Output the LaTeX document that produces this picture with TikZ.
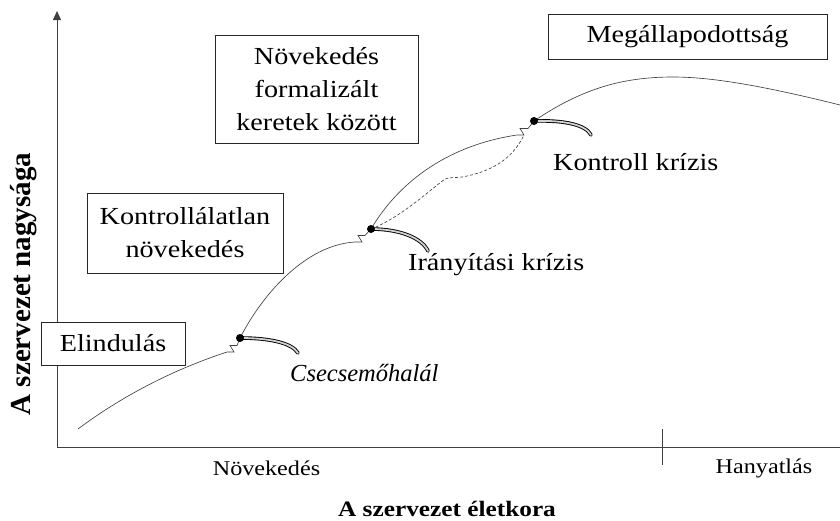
\documentclass[tikz,border=0pt]{standalone}
\usepackage{fontspec}
\setmainfont{Liberation Serif}[FakeStretch=1.15]
\newfontfamily\axisfont{Liberation Serif}
\usetikzlibrary{arrows.meta}
\newcommand\phasefont{\fontsize{24.5}{33}\selectfont}
\newcommand\stagefont{\fontsize{21}{24}\selectfont}

\begin{document}
\begin{tikzpicture}[x=1pt,y=-1pt,
  axisline/.style={draw=black!75, line width=0.8pt},
  growth/.style={draw=black!75, line width=0.65pt},
  phase/.style={draw=black!85, line width=0.8pt, fill=white, inner sep=0pt,
                align=center, font=\phasefont},
  swoosh/.style={draw=black, line width=0.9pt, double=black!18,
                 double distance=1.8pt, line cap=round},
  crisisdot/.style={fill=black, circle, inner sep=0pt, minimum size=8pt},
  crisis/.style={anchor=west, font=\phasefont, inner sep=0pt},
  stage/.style={font=\stagefont, inner sep=0pt}]
\useasboundingbox (0,0) rectangle (840,520);

% axes
\coordinate (O) at (57,447);
\coordinate (ytop) at (57,11);
\coordinate (xend) at (840,447);
\draw[axisline, -{Triangle[length=9pt,width=8pt]}] (O) -- (ytop);
\draw[axisline] (O) -- (xend);
\coordinate (tickT) at (662,429);
\coordinate (tickB) at (662,465);
\draw[axisline] (tickT) -- (tickB);

% crisis points
\coordinate (c1) at (240,338);
\coordinate (c2) at (371,229);
\coordinate (c3) at (534,121);

% growth curve, broken by the crises
\coordinate (start) at (78,429);
\draw[growth] (start) .. controls (110,405) and (160,374) .. (227,352)
  -- (234,352) -- (230,345.5) -- (237,345.5) -- (c1);
\draw[growth] (c1) .. controls (262,295) and (305,245) .. (355,242)
  -- (362,242) -- (358,235.5) -- (365,235.5) -- (c2);
\draw[growth] (c2) .. controls (400,180) and (450,145) .. (517,135)
  -- (524,135) -- (520,128.5) -- (528,128.5) -- (c3);
\coordinate (end) at (840,105);
\draw[growth] (c3) .. controls (580,90) and (620,77) .. (673,77)
  .. controls (710,77) and (760,85) .. (end);

% alternative path between the two crises
\draw[growth, dash pattern=on 3pt off 2pt]
  (c2) .. controls (400,218) and (430,190) .. (445,179)
  .. controls (450,177) and (455,178) .. (462,177)
  .. controls (490,172) and (512,160) .. (524,135);

% crisis swooshes
\draw[swoosh] (c1) .. controls (270,338) and (292,343) .. (298,353);
\draw[swoosh] (c2) .. controls (400,229) and (422,238) .. (428,251);
\draw[swoosh] (c3) .. controls (565,120) and (586,125) .. (591,135);
\node[crisisdot] (d1) at (c1) {};
\node[crisisdot] (d2) at (c2) {};
\node[crisisdot] (d3) at (c3) {};

% phase boxes
\node[phase, minimum width=144pt, minimum height=43pt] (p1) at (113,343.5) {Elindulás};
\node[phase, minimum width=196pt, minimum height=80pt] (p2) at (185,233) {Kontrollálatlan\\növekedés};
\node[phase, minimum width=203pt, minimum height=108pt] (p3) at (316.5,89) {Növekedés\\formalizált\\keretek között};
\node[phase, minimum width=279pt, minimum height=45pt] (p4) at (687.5,36.5) {Megállapodottság};

% crisis labels
\node[crisis, font=\axisfont\itshape\phasefont] (l1) at (290,373) {Csecsemőhalál};
\node[crisis] (l2) at (408,265) {Irányítási krízis};
\node[crisis] (l3) at (553,162) {Kontroll krízis};

% axis texts
\node[stage] (s1) at (266.5,468) {Növekedés};
\node[stage] (s2) at (764,468) {Hanyatlás};
\node[font=\fontsize{22}{24}\selectfont\bfseries, inner sep=0pt] (xl) at (447,509) {A szervezet életkora};
\node[rotate=90, font=\axisfont\bfseries\fontsize{29}{30}\selectfont, inner sep=0pt] (yl) at (24,284) {A szervezet nagysága};
\end{tikzpicture}
\end{document}
